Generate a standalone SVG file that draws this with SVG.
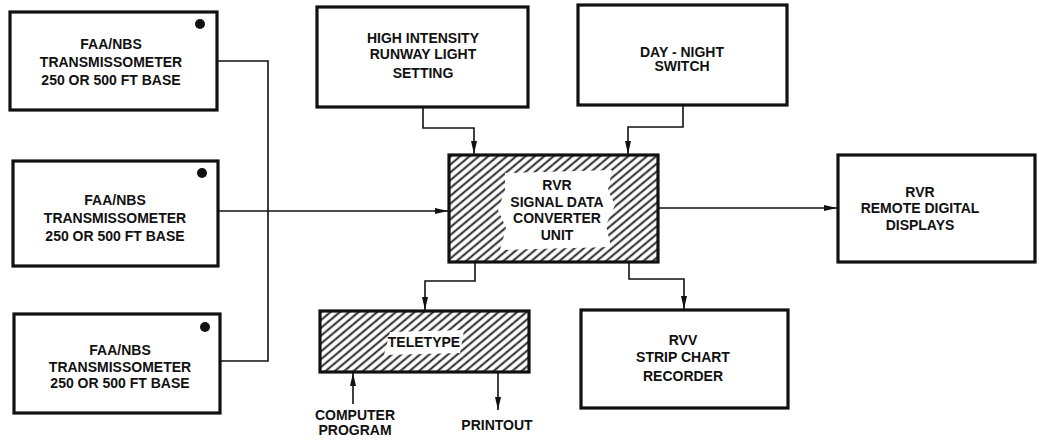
<svg xmlns="http://www.w3.org/2000/svg" width="1039" height="445" viewBox="0 0 1039 445">
<style>
.box{fill:#fff;stroke:#111;stroke-width:3.2}
.hbox{fill:url(#hatch);stroke:#111;stroke-width:3.2}
.t{font-family:"Liberation Sans",Arial,sans-serif;font-weight:bold;font-size:14px;fill:#111;text-anchor:middle}
.c{fill:none;stroke:#111;stroke-width:1.6}
</style>
<defs>
<pattern id="hatch" patternUnits="userSpaceOnUse" width="6" height="6" patternTransform="rotate(50)">
<rect width="6" height="6" fill="#fff"/>
<line x1="1.5" y1="0" x2="1.5" y2="6" stroke="#111" stroke-width="1.8"/>
</pattern>
<marker id="arr" viewBox="0 0 13 6" refX="13" refY="3" markerWidth="13" markerHeight="6" markerUnits="userSpaceOnUse" orient="auto">
<path d="M0,0 L13,3 L0,6 Z" fill="#111"/>
</marker>
</defs>
<g id="connectors">
<polyline class="c" points="217,61 268,61 268,361 220,361"/>
<line class="c" x1="218" y1="211" x2="448" y2="211" marker-end="url(#arr)"/>
<polyline class="c" points="423,107 423,128 474,128 474,154" marker-end="url(#arr)"/>
<polyline class="c" points="683,105 683,127 628,127 628,154" marker-end="url(#arr)"/>
<line class="c" x1="658" y1="208" x2="837" y2="208" marker-end="url(#arr)"/>
<polyline class="c" points="475,262 475,281 425,281 425,310" marker-end="url(#arr)"/>
<polyline class="c" points="629,262 629,279 684,279 684,309" marker-end="url(#arr)"/>
<line class="c" x1="353" y1="404" x2="353" y2="373" marker-end="url(#arr)"/>
<line class="c" x1="498" y1="372" x2="498" y2="410" marker-end="url(#arr)"/>
</g>
<g id="tm1">
<rect class="box" x="10" y="12" width="207" height="98"/>
<circle cx="200" cy="24" r="5" fill="#111"/>
<text class="t" x="111" y="49">FAA/NBS</text>
<text class="t" x="111" y="67">TRANSMISSOMETER</text>
<text class="t" x="111" y="85">250 OR 500 FT BASE</text>
</g>
<g id="tm2">
<rect class="box" x="13" y="161" width="205" height="105"/>
<circle cx="202" cy="173" r="5" fill="#111"/>
<text class="t" x="115" y="205">FAA/NBS</text>
<text class="t" x="115" y="223">TRANSMISSOMETER</text>
<text class="t" x="115" y="241">250 OR 500 FT BASE</text>
</g>
<g id="tm3">
<rect class="box" x="14" y="314" width="206" height="99"/>
<circle cx="205" cy="327" r="5" fill="#111"/>
<text class="t" x="120" y="355">FAA/NBS</text>
<text class="t" x="120" y="372">TRANSMISSOMETER</text>
<text class="t" x="120" y="388">250 OR 500 FT BASE</text>
</g>
<g id="hirl">
<rect class="box" x="317" y="7" width="211" height="100"/>
<text class="t" x="423" y="43">HIGH INTENSITY</text>
<text class="t" x="423" y="59">RUNWAY LIGHT</text>
<text class="t" x="423" y="78">SETTING</text>
</g>
<g id="daynight">
<rect class="box" x="578" y="5" width="209" height="100"/>
<text class="t" x="682" y="57">DAY - NIGHT</text>
<text class="t" x="682" y="71">SWITCH</text>
</g>
<g id="converter">
<rect class="hbox" x="449" y="155" width="209" height="107"/>
<polygon points="505,173 612,170 608,190 615,205 606,225 611,247 500,250 506,228 498,210 505,190" fill="#fff"/>
<text class="t" x="557" y="190">RVR</text>
<text class="t" x="557" y="207">SIGNAL DATA</text>
<text class="t" x="557" y="223">CONVERTER</text>
<text class="t" x="557" y="240">UNIT</text>
</g>
<g id="displays">
<rect class="box" x="838" y="155" width="197" height="107"/>
<text class="t" x="920" y="197">RVR</text>
<text class="t" x="920" y="213">REMOTE DIGITAL</text>
<text class="t" x="920" y="230">DISPLAYS</text>
</g>
<g id="teletype">
<rect class="hbox" x="320" y="311" width="209" height="61"/>
<polygon points="390,332 464,330 460,353 384,355" fill="#fff"/>
<text class="t" x="424" y="347">TELETYPE</text>
</g>
<g id="recorder">
<rect class="box" x="581" y="310" width="207" height="98"/>
<text class="t" x="683" y="345">RVV</text>
<text class="t" x="683" y="362">STRIP CHART</text>
<text class="t" x="683" y="381">RECORDER</text>
</g>
<g id="labels">
<text class="t" x="355" y="420">COMPUTER</text>
<text class="t" x="355" y="435">PROGRAM</text>
<text class="t" x="497" y="430">PRINTOUT</text>
</g>
</svg>
